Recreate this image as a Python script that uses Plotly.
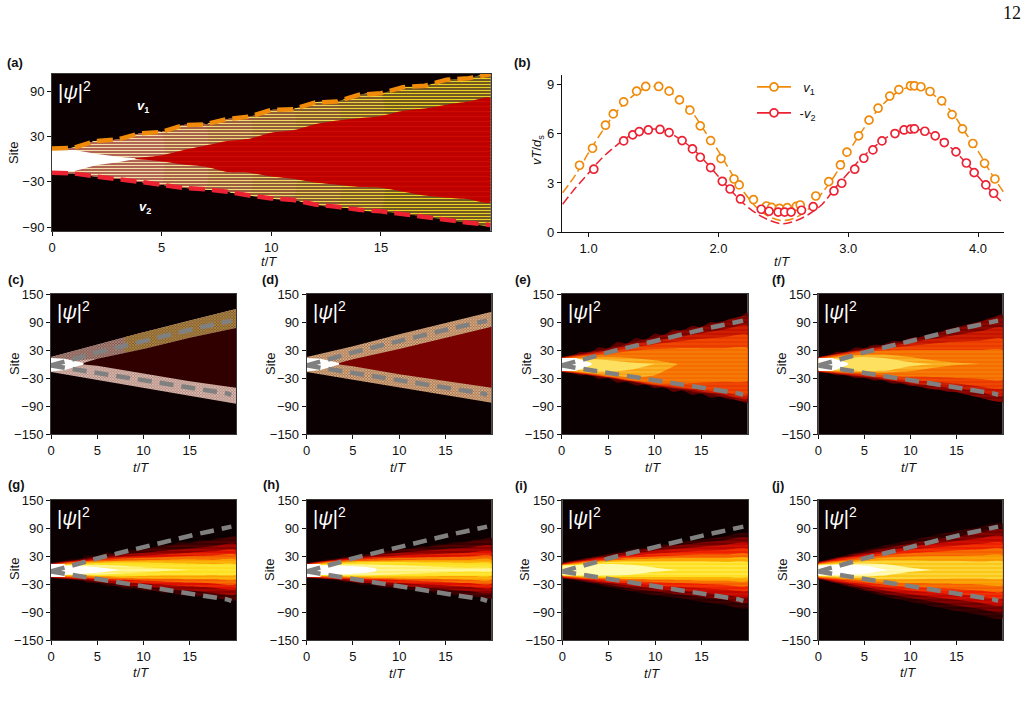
import plotly.graph_objects as go

W, H = 1028, 717
FONT = "Liberation Sans"
BG = "#0a0002"

# ---- panel (a): wavefront and core edges, sites against t/T
a_t = list(range(21))
a_top = [14, 15, 24, 26, 34, 36, 45, 46, 53, 56, 65, 66, 75, 76, 85, 87, 95, 97, 105, 107, 112]
a_bottom = [-18, -19, -23, -26, -30, -34, -38, -40, -43, -48, -52, -54, -60, -63, -67, -69, -73, -76, -81, -84, -87]
a_core_t = [3.8, 5, 6, 7, 8, 9, 10, 11, 12, 13, 14, 15, 16, 17, 18, 19, 20]
a_core_top = [1, 5, 12, 18, 24, 27, 35, 38, 46, 51, 54, 57, 64, 67, 72, 76, 81]
a_core_bottom = [0, -3, -7, -10, -17, -18, -23, -26, -31, -34, -37, -38, -43, -48, -51, -53, -57]
a_white_t = [0, 1, 2, 3, 3.8]
a_white_top = [12, 12, 7, 3, 1]
a_white_bottom = [-17, -16, -8, -4, 0]

# ---- panel (b): instantaneous velocities
b_v1_t = [0.93, 1.03, 1.13, 1.19, 1.27, 1.37, 1.44, 1.54, 1.62, 1.70, 1.78, 1.86, 1.94, 2.02, 2.12, 2.16, 2.27, 2.37, 2.41, 2.47, 2.53,
          2.60, 2.63, 2.75, 2.85, 2.94, 2.99, 3.08, 3.16, 3.23, 3.32, 3.39, 3.48, 3.51, 3.56, 3.63, 3.72, 3.80, 3.88, 3.96, 4.05, 4.13]
b_v1 = [4.08, 5.12, 6.53, 7.22, 7.96, 8.61, 8.90, 8.90, 8.61, 8.08, 7.45, 6.49, 5.59, 4.49, 3.24, 2.88, 1.98, 1.59, 1.51, 1.45, 1.49,
        1.57, 1.65, 2.20, 3.08, 4.10, 4.88, 5.88, 6.84, 7.57, 8.31, 8.71, 8.94, 8.94, 8.88, 8.59, 8.02, 7.18, 6.31, 5.41, 4.20, 3.24]
b_v2_t = [1.04, 1.27, 1.34, 1.39, 1.46, 1.55, 1.62, 1.72, 1.80, 1.86, 1.94, 2.03, 2.09, 2.17, 2.33, 2.39, 2.46, 2.51, 2.56, 2.64,
          2.73, 2.89, 2.95, 3.05, 3.12, 3.19, 3.26, 3.36, 3.43, 3.48, 3.51, 3.59, 3.67, 3.74, 3.83, 3.91, 3.97, 4.06, 4.12]
b_v2 = [3.84, 5.57, 5.94, 6.14, 6.24, 6.27, 6.08, 5.59, 5.08, 4.57, 3.94, 3.10, 2.63, 2.02, 1.39, 1.27, 1.22, 1.22, 1.22, 1.33,
        1.55, 2.51, 2.98, 3.84, 4.51, 5.02, 5.57, 6.02, 6.24, 6.29, 6.31, 6.16, 5.88, 5.47, 4.90, 4.22, 3.63, 2.88, 2.37]
b_curve_t = [0.8, 0.9, 1.0, 1.1, 1.2, 1.3, 1.4, 1.5, 1.6, 1.7, 1.8, 1.9, 2.0, 2.1, 2.2, 2.3, 2.4, 2.5,
             2.6, 2.7, 2.8, 2.9, 3.0, 3.1, 3.2, 3.3, 3.4, 3.5, 3.6, 3.7, 3.8, 3.9, 4.0, 4.1, 4.2]
b_curve_v1 = [2.4, 3.5, 4.85, 6.1, 7.2, 8.05, 8.65, 8.9, 8.7, 8.1, 7.3, 6.1, 4.95, 3.6, 2.4, 1.45, 0.9, 0.7,
              0.9, 1.45, 2.4, 3.5, 4.85, 6.1, 7.2, 8.05, 8.65, 8.9, 8.7, 8.1, 7.3, 6.1, 4.95, 3.6, 2.4]
b_curve_v2 = [1.7, 2.7, 3.6, 4.5, 5.2, 5.8, 6.15, 6.3, 6.15, 5.7, 5.1, 4.3, 3.4, 2.5, 1.7, 1.1, 0.7, 0.5,
              0.7, 1.1, 1.7, 2.7, 3.6, 4.5, 5.2, 5.8, 6.15, 6.3, 6.15, 5.7, 5.1, 4.3, 3.4, 2.5, 1.7]

# ---- shared front guides drawn over panels (c)-(j)
guide_t = [0, 1, 2, 3, 4, 5, 6, 7, 8, 9, 10, 11, 12, 13, 14, 15, 16, 17, 18, 19, 19.5]
guide_v1 = [-3, 2, 7, 12, 19, 25, 30, 35, 40, 44, 49, 54, 59, 64, 69, 74, 78, 82, 86, 90, 93]
guide_v2 = [-3, -7, -10, -13, -16, -19, -22, -26, -29, -32, -36, -39, -42, -45, -47, -50, -54, -57, -60, -63, -66]

# ---- panels (c), (d): sharp fronts
cd_t = [0, 5, 10, 15, 20]
c_top = [15, 42, 68, 93, 118]
c_bottom = [-17, -34, -51, -68, -85]
c_core_t = [3.5, 5, 10, 15, 20]
c_core_top = [2, 11, 32, 56, 77]
c_core_bottom = [-1, -4, -21, -37, -51]
d_top = [15, 38, 64, 88, 112]
d_bottom = [-17, -34, -50, -67, -83]
d_core_top = [2, 10, 32, 56, 80]
d_core_bottom = [-1, -5, -22, -37, -51]
cd_white_t = [0, 1.5, 3.5]
cd_white_top = [13, 11, 2]
cd_white_bottom = [-16, -13, -1]
c_gold_t = [8, 10, 15, 20]
c_gold_top = [58, 68, 93, 118]
c_gold_bottom = [24, 32, 56, 77]
c_upper_left_bottom = [2, 11, 32]

# ---- panels (e)-(j): nested intensity contours, site against t/T
edge_t = list(range(21))
band_t = [0, 2.5, 5, 7.5, 10, 12.5, 15, 17.5, 20]
e_edge_top = [15, 15, 26, 24, 36, 34, 47, 44, 55, 52, 65, 62, 74, 71, 82, 79, 90, 88, 96, 98, 110]
e_edge_bottom = [-17, -18, -24, -23, -32, -30, -40, -38, -46, -44, -52, -50, -60, -57, -66, -63, -72, -70, -76, -76, -84]
e_up = [[15, 24, 33, 46, 57, 71, 80, 92, 102], [14, 22, 30, 42, 50, 58, 66, 74, 82], [13, 20, 27, 35, 42, 48, 54, 58, 62],
        [12, 17, 22, 28, 32, 34, 34, 34, 34], [11, 14, 15, 13, 8, 0], [10, 11, 8, 3, 0]]
e_lo = [[-17, -23, -30, -38, -47, -54, -62, -70, -79], [-16, -22, -29, -37, -46, -52, -59, -66, -74], [-15, -21, -28, -36, -44, -50, -55, -61, -66],
        [-14, -20, -27, -35, -41, -42, -40, -38, -36], [-13, -18, -24, -28, -24, 0], [-12, -14, -17, -12, 0]]
f_edge_top = [15, 16, 26, 25, 35, 34, 41, 41, 49, 49, 56, 58, 64, 67, 75, 79, 84, 89, 94, 100, 106]
f_edge_bottom = [-17, -18, -24, -24, -30, -30, -35, -35, -42, -42, -47, -47, -54, -54, -60, -60, -66, -66, -74, -75, -82]
f_up = [[15, 24, 33, 42, 52, 64, 76, 90, 100], [14, 23, 31, 38, 46, 54, 62, 70, 78], [13, 22, 29, 34, 39, 44, 48, 50, 54],
        [12, 19, 26, 29, 30, 30, 30, 30, 30], [11, 16, 20, 20, 15, 8, 3, 0], [10, 13, 15, 12, 4, 0]]
f_lo = [[-17, -23, -29, -35, -45, -54, -60, -72, -80], [-16, -22, -27, -34, -41, -47, -52, -60, -68], [-15, -20, -24, -30, -35, -38, -42, -48, -52],
        [-14, -18, -21, -25, -27, -28, -30, -32, -33], [-13, -16, -18, -18, -15, -8, -2, 0], [-12, -14, -15, -14, -5, 0]]
g_edge_top = [15, 16, 23, 22, 31, 30, 38, 36, 44, 43, 49, 48, 55, 54, 60, 59, 64, 63, 68, 69, 72]
g_edge_bottom = [-17, -18, -21, -21, -28, -27, -35, -33, -41, -39, -45, -44, -50, -49, -55, -54, -58, -57, -62, -63, -66]
g_up = [[15, 22, 30, 37, 44, 51, 57, 63, 69], [14, 21, 27, 33, 37, 42, 46, 51, 55], [13, 19, 24, 28, 31, 34, 37, 40, 42], [12, 17, 21, 24, 26, 28, 30, 31, 32],
        [11, 15, 18, 20, 21, 22, 23, 22, 22], [10, 13, 15, 16, 16, 15, 14, 13, 12], [9, 11, 11, 9, 6, 3, 0], [9, 9, 6, 0]]
g_lo = [[-17, -21, -28, -36, -42, -48, -53, -58, -64], [-16, -20, -25, -31, -36, -40, -44, -49, -52], [-15, -18, -21, -25, -29, -32, -35, -38, -40], [-14, -16, -18, -21, -23, -25, -27, -29, -30],
        [-13, -14, -15, -17, -18, -19, -20, -20, -20], [-12, -12, -13, -14, -13, -12, -12, -11, -10], [-11, -10, -10, -8, -5, -2, 0], [-11, -9, -6, 0]]
h_edge_top = [15, 15, 23, 22, 29, 29, 35, 34, 41, 41, 46, 45, 50, 50, 55, 55, 60, 60, 65, 66, 69]
h_edge_bottom = [-17, -17, -20, -20, -26, -26, -32, -31, -38, -37, -42, -41, -45, -45, -50, -50, -54, -54, -58, -59, -62]
h_up = [[15, 22, 29, 36, 43, 48, 54, 60, 66], [14, 21, 27, 32, 37, 41, 45, 48, 52], [13, 20, 25, 28, 31, 33, 35, 37, 39], [12, 18, 22, 24, 26, 27, 28, 29, 30],
        [11, 16, 19, 20, 21, 22, 22, 22, 22], [10, 14, 16, 17, 17, 16, 16, 15, 14], [9, 12, 13, 12, 10, 8, 6, 5, 4], [9, 10, 8, 3]]
h_lo = [[-17, -20, -27, -33, -39, -43, -48, -53, -59], [-16, -19, -25, -29, -34, -38, -41, -45, -48], [-15, -18, -21, -24, -28, -31, -33, -36, -38], [-14, -16, -18, -20, -22, -24, -26, -28, -29],
        [-13, -14, -16, -17, -18, -19, -20, -21, -21], [-12, -13, -14, -14, -14, -14, -13, -13, -12], [-11, -11, -12, -11, -9, -7, -5, -4, -3], [-11, -10, -8, -2]]
i_up = [[16, 25, 35, 44, 52, 59, 66, 72, 78], [15, 24, 32, 40, 47, 53, 59, 64, 68], [14, 22, 29, 35, 41, 46, 50, 54, 57], [13, 20, 26, 31, 35, 38, 41, 43, 45],
        [12, 18, 23, 27, 29, 31, 33, 33, 34], [11, 16, 20, 23, 24, 25, 25, 25, 25], [10, 14, 17, 18, 18, 18, 18, 17, 16], [9, 12, 13, 11, 5, 0]]
i_lo = [[-18, -26, -36, -46, -54, -60, -68, -75, -82], [-17, -24, -32, -40, -46, -52, -58, -64, -70], [-16, -22, -28, -34, -40, -44, -48, -53, -57], [-15, -20, -25, -29, -33, -36, -39, -42, -44],
        [-14, -18, -21, -24, -26, -28, -30, -32, -33], [-13, -16, -18, -20, -21, -22, -23, -23, -23], [-12, -14, -15, -15, -15, -15, -15, -15, -14], [-11, -12, -12, -10, -4, 0]]
j_up = [[18, 30, 42, 54, 64, 74, 84, 92, 100], [17, 28, 38, 48, 57, 65, 72, 80, 86], [16, 26, 34, 42, 50, 56, 62, 68, 72], [15, 24, 31, 37, 43, 48, 52, 56, 58],
        [14, 21, 27, 32, 36, 39, 42, 44, 45], [13, 18, 23, 27, 29, 30, 30, 31, 31], [12, 16, 19, 21, 21, 20, 20, 18, 18], [11, 13, 14, 12, 5, 0], [9, 11, 9, 0]]
j_lo = [[-20, -32, -45, -58, -68, -78, -88, -96, -104], [-19, -30, -41, -52, -60, -68, -76, -83, -90], [-18, -27, -36, -45, -52, -58, -64, -70, -75], [-17, -24, -31, -38, -44, -49, -52, -56, -60],
        [-16, -21, -26, -32, -36, -39, -41, -44, -46], [-15, -18, -22, -26, -28, -29, -30, -31, -32], [-14, -16, -18, -20, -20, -19, -18, -18, -18], [-13, -14, -14, -11, -4, 0], [-11, -10, -8, 0]]
source_t = [0, 1.5, 3.2]
source_top = [13, 13, 2]
source_bottom = [-15, -15, -2]

# Heat palettes, ordered from the faint outer contour inwards
PAL_EF = ["#7a0300", "#c41400", "#ea3a00", "#f56c00", "#f9a414", "#fde060"]
PAL_GH = ["#3a0000", "#8c0000", "#e01000", "#f55a00", "#fba000", "#fde020", "#fff070", "#ffffff"]
PAL_I = ["#2a0000", "#6e0000", "#c00800", "#ee2000", "#f76000", "#fba800", "#fee020", "#fffbb0"]
PAL_J = ["#2a0000", "#6e0000", "#c00800", "#ee2000", "#f76000", "#f99800", "#fcc818", "#fff8a0", "#ffffff"]

ORANGE = "#ef8a0a"
RED = "#ec2233"
GREY = "#808080"

# Subplot rectangles in pixels: left, right, top, bottom
PANELS = {
    "a": (52, 490.5, 74, 231),
    "b": (562, 1004, 75, 232),
    "c": (51, 236, 294, 434),
    "d": (306.7, 491.7, 294, 434),
    "e": (561.7, 747.7, 294, 434),
    "f": (818.3, 1002.7, 294, 434),
    "g": (51, 236, 500, 640),
    "h": (306.7, 491.7, 500, 640),
    "i": (562.3, 748, 500, 640),
    "j": (818.3, 1002.7, 500, 640),
}
LABEL_XY = {"a": (5, 63), "b": (512, 63), "c": (6, 279), "d": (260, 279), "e": (513, 279), "f": (770, 279),
            "g": (6, 484), "h": (261, 484), "i": (513, 485), "j": (770, 485)}
TIME_TITLE_XY = {"a": (269, 261), "b": (782, 261), "c": (141, 467), "d": (398, 467), "e": (653, 467), "f": (909, 467),
                 "g": (141, 672), "h": (397, 673), "i": (652, 673), "j": (908, 672)}
SITE_TITLE_XY = {"a": (14, 153), "c": (14, 364), "d": (270, 364), "e": (526, 364), "f": (781, 364),
                 "g": (14, 569), "h": (269, 570), "i": (524, 570), "j": (782, 570)}

fig = go.Figure()
annotations = []
shapes = []


def px(x):
    return x / W


def py(y):
    return 1 - y / H


def axis_ids(i):
    s = "" if i == 0 else str(i + 1)
    return "x" + s, "y" + s


def mix(c1, c2, f):
    a = [int(c1[i:i + 2], 16) for i in (1, 3, 5)]
    b = [int(c2[i:i + 2], 16) for i in (1, 3, 5)]
    return "#" + "".join(f"{round(p + (q - p) * f):02x}" for p, q in zip(a, b))


def band(xa, ya, t, top, bottom, color=None, pattern=None, shape="spline"):
    n = min(len(top), len(bottom))
    xs = list(t[:n]) + list(t[:n])[::-1]
    ys = list(top[:n]) + list(bottom[:n])[::-1]
    kw = dict(fillpattern=pattern) if pattern else dict(fillcolor=color)
    fig.add_trace(go.Scatter(x=xs, y=ys, xaxis=xa, yaxis=ya, mode="lines", fill="toself",
                             line=dict(width=0, shape=shape, smoothing=0.6), hoverinfo="skip",
                             showlegend=False, **kw))


def guides(xa, ya):
    for values in (guide_v1, guide_v2):
        fig.add_trace(go.Scatter(x=guide_t, y=values, xaxis=xa, yaxis=ya, mode="lines",
                                 line=dict(color=GREY, width=4.5, dash="14px,8px"),
                                 hoverinfo="skip", showlegend=False))


def stripes(fg, bg, size=4, solidity=0.4, shape="-"):
    return dict(shape=shape, fgcolor=fg, bgcolor=bg, size=size, solidity=solidity, fillmode="replace")


def contours(xa, ya, ups, los, palette):
    # Each level is streaked with a tint of the next one inwards so the bands read as fine filaments
    for k, (up, lo, color) in enumerate(zip(ups, los, palette)):
        inner = palette[min(k + 1, len(palette) - 1)]
        band(xa, ya, band_t, up, lo, pattern=stripes(mix(color, inner, 0.45), color, 4, 0.3))


ids = {k: axis_ids(i) for i, k in enumerate(PANELS)}

# (a): the striped fronts cool from pale pink at early times to yellow on olive
xa, ya = ids["a"]
band(xa, ya, a_t, a_top, a_bottom, pattern=stripes("#e8d224", "#6e5420", 3, 0.36))
for n, fade in ((16, 0.15), (14, 0.3), (12, 0.45), (10, 0.6), (8, 0.75), (6, 0.9)):
    fg = mix("#e8d224", "#f4e0b4", fade)
    bg = mix("#6e5420", "#aa4c4c", fade)
    band(xa, ya, a_t[:n], a_top[:n], a_bottom[:n], pattern=stripes(fg, bg, 3, 0.36 + 0.09 * fade))
band(xa, ya, a_core_t, a_core_top, a_core_bottom, pattern=stripes("#cf0a00", "#bd0000", 5, 0.25))
band(xa, ya, a_white_t, a_white_top, a_white_bottom, "#ffffff", shape="linear")
fig.add_trace(go.Scatter(x=a_t, y=a_top, xaxis=xa, yaxis=ya, mode="lines", showlegend=False, hoverinfo="skip",
                         line=dict(color=ORANGE, width=4.5, dash="16px,7px")))
fig.add_trace(go.Scatter(x=a_t, y=a_bottom, xaxis=xa, yaxis=ya, mode="lines", showlegend=False, hoverinfo="skip",
                         line=dict(color=RED, width=4.5, dash="16px,7px")))

# (b)
xa, ya = ids["b"]
for curve, color in ((b_curve_v1, ORANGE), (b_curve_v2, RED)):
    fig.add_trace(go.Scatter(x=b_curve_t, y=curve, xaxis=xa, yaxis=ya, mode="lines", showlegend=False,
                             line=dict(color=color, width=1.5, dash="9px,4px", shape="spline")))
marker_style = lambda c: dict(symbol="circle", size=8, color="white", line=dict(color=c, width=1.7))
fig.add_trace(go.Scatter(x=b_v1_t, y=b_v1, xaxis=xa, yaxis=ya, mode="markers", showlegend=False,
                         marker=marker_style(ORANGE)))
fig.add_trace(go.Scatter(x=b_v2_t, y=b_v2, xaxis=xa, yaxis=ya, mode="markers", showlegend=False,
                         marker=marker_style(RED)))
fig.add_trace(go.Scatter(x=[None], y=[None], xaxis=xa, yaxis=ya, mode="lines+markers", name="  <i>v</i><sub>1</sub>",
                         legendgroup="v1", line=dict(color=ORANGE, width=1.7), marker=marker_style(ORANGE)))
fig.add_trace(go.Scatter(x=[None], y=[None], xaxis=xa, yaxis=ya, mode="lines+markers", name=" -<i>v</i><sub>2</sub>",
                         legendgroup="v2", line=dict(color=RED, width=1.7), marker=marker_style(RED)))

# (c), (d)
xa, ya = ids["c"]
band(xa, ya, cd_t, c_top, c_bottom, pattern=stripes("#ecd4c8", "#b48a80", 2, 0.5, "x"), shape="linear")
band(xa, ya, cd_t[:3], c_top[:3], c_upper_left_bottom, pattern=stripes("#c8a090", "#7a5450", 2, 0.5, "x"), shape="linear")
band(xa, ya, c_gold_t, c_gold_top, c_gold_bottom, pattern=stripes("#cc9c30", "#7a5a40", 2, 0.5, "x"), shape="linear")
band(xa, ya, c_core_t, c_core_top, c_core_bottom, "#300000", shape="linear")
band(xa, ya, cd_white_t, cd_white_top, cd_white_bottom, "#ffffff", shape="linear")
guides(xa, ya)

xa, ya = ids["d"]
band(xa, ya, cd_t, d_top, d_bottom, pattern=stripes("#ecd0a8", "#a8704c", 2, 0.5, "x"), shape="linear")
band(xa, ya, c_core_t, d_core_top, d_core_bottom, "#7a0200", shape="linear")
band(xa, ya, cd_white_t, cd_white_top, cd_white_bottom, "#ffffff", shape="linear")
guides(xa, ya)

# (e), (f)
for key, edge_top, edge_bottom, ups, los in (("e", e_edge_top, e_edge_bottom, e_up, e_lo),
                                             ("f", f_edge_top, f_edge_bottom, f_up, f_lo)):
    xa, ya = ids[key]
    band(xa, ya, edge_t, edge_top, edge_bottom, "#5a0000")
    contours(xa, ya, ups, los, PAL_EF)
    band(xa, ya, source_t, source_top, source_bottom, "#ffffff", shape="linear")
    guides(xa, ya)

# (g)-(j)
for key, ups, los, palette in (("g", g_up, g_lo, PAL_GH), ("h", h_up, h_lo, PAL_GH),
                               ("i", i_up, i_lo, PAL_I), ("j", j_up, j_lo, PAL_J)):
    xa, ya = ids[key]
    if key == "g":
        band(xa, ya, edge_t, g_edge_top, g_edge_bottom, "#2a0000")
    if key == "h":
        band(xa, ya, edge_t, h_edge_top, h_edge_bottom, "#2a0000")
    contours(xa, ya, ups, los, palette)
    if key in "gh":
        band(xa, ya, source_t[:2], source_top[:2], source_bottom[:2], "#ffffff", shape="linear")
    guides(xa, ya)

layout = dict(width=W, height=H, margin=dict(l=0, r=0, t=0, b=0, autoexpand=False), paper_bgcolor="white", plot_bgcolor="white",
              font=dict(family=FONT, size=13, color="#111111"), autosize=False,
              legend=dict(x=752 / W, y=py(72), xanchor="left", yanchor="top", bgcolor="rgba(0,0,0,0)",
                          font=dict(size=13), itemwidth=34, tracegroupgap=6))


def note(x, y, text, size=13, color="#111111", angle=0, xanchor="center", family=FONT):
    annotations.append(dict(xref="paper", yref="paper", x=px(x), y=py(y), xanchor=xanchor, yanchor="middle", showarrow=False,
                            text=text, textangle=angle, font=dict(size=size, color=color, family=family)))


for i, (key, (l, r, t, b)) in enumerate(PANELS.items()):
    s = "" if i == 0 else str(i + 1)
    xaxis = dict(domain=[px(l), px(r)], anchor="y" + s, ticks="outside", ticklen=4, tickwidth=1, tickcolor="#111111",
                 showgrid=False, zeroline=False)
    yaxis = dict(domain=[py(b), py(t)], anchor="x" + s, ticks="outside", ticklen=4, tickwidth=1, tickcolor="#111111",
                 showgrid=False, zeroline=False)
    if key != "b":
        xaxis.update(range=[0, 20], tickvals=[0, 5, 10, 15], showline=True, mirror=True, linecolor="#3a3a3a", linewidth=1)
        yaxis.update(showline=True, mirror=True, linecolor="#3a3a3a", linewidth=1)
        if key == "a":
            yaxis.update(range=[-95, 112.5], tickvals=[90, 30, -30, -90])
        else:
            yaxis.update(range=[-150, 150], tickvals=[150, 90, 30, -30, -90, -150])
        shapes.append(dict(type="rect", xref=f"x{s} domain", yref=f"y{s} domain", x0=0, x1=1, y0=0, y1=1,
                           fillcolor=BG, line=dict(width=0), layer="below"))
        note(l + 4, t + 16, "|<i>ψ</i>|<sup>2</sup>", size=20, color="white", xanchor="left")
        sx, sy = SITE_TITLE_XY[key]
        note(sx, sy, "Site", angle=-90)
    else:
        xaxis.update(range=[0.795, 4.2], tickvals=[1, 2, 3, 4], ticktext=["1.0", "2.0", "3.0", "4.0"], showline=True,
                     linecolor="#111111", linewidth=1.4)
        yaxis.update(range=[0, 9.6], tickvals=[0, 3, 6, 9], showline=True, linecolor="#111111", linewidth=1.4)
        note(537, 150, "<i>vT</i>/<i>d</i><sub>s</sub>", angle=-90)
    layout["xaxis" + s] = xaxis
    layout["yaxis" + s] = yaxis
    tx, ty = TIME_TITLE_XY[key]
    note(tx, ty, "<i>t</i>/<i>T</i>")
    lx, ly = LABEL_XY[key]
    note(lx, ly, f"<b>({key})</b>", xanchor="left")

# Text inside panel (a) and the page number
note(143, 106, "<b><i>v</i></b><sub><b>1</b></sub>", color="white")
note(145, 208, "<b><i>v</i></b><sub><b>2</b></sub>", color="white")
note(1012, 13, "12", size=18, family="Liberation Serif")
layout["annotations"] = annotations
layout["shapes"] = shapes
fig.update_layout(**layout)

fig.write_html("out.html")
